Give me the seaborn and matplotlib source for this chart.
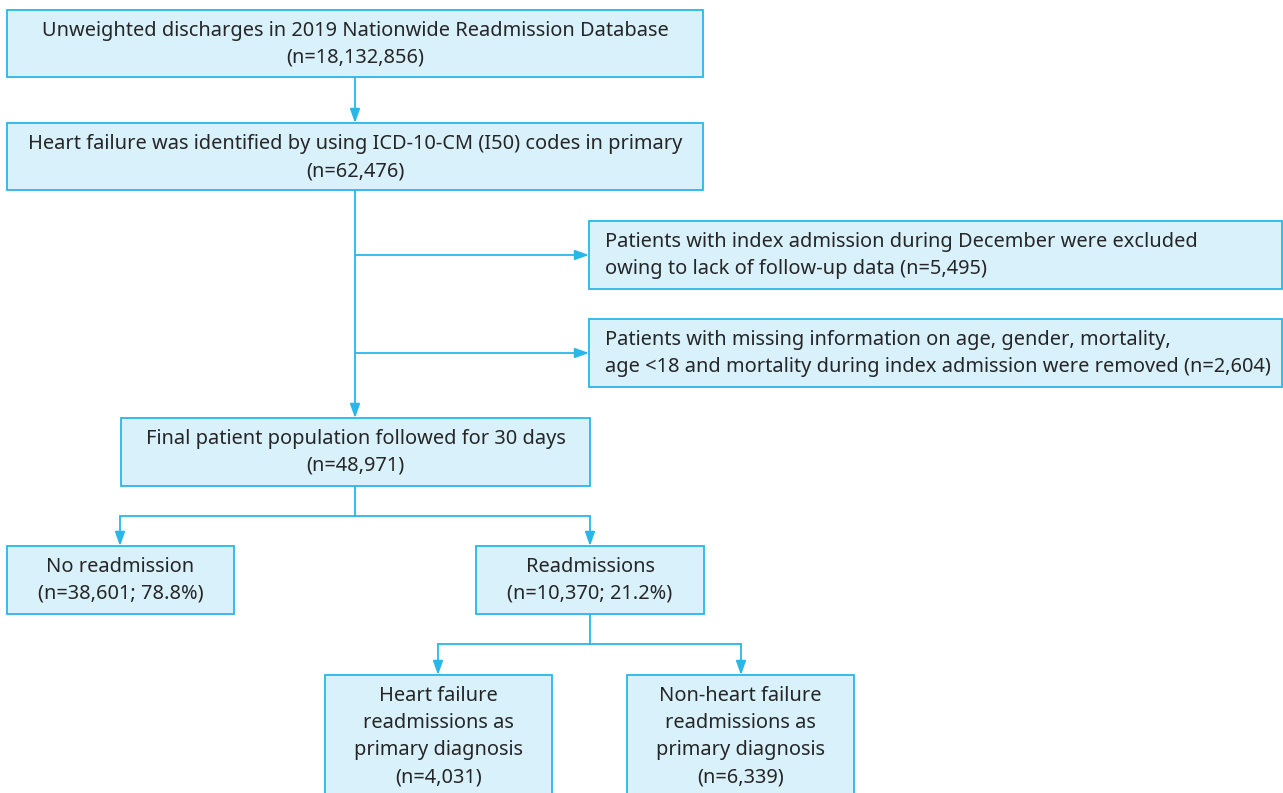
# flowchart of the 2019 NRD heart failure cohort
import matplotlib
matplotlib.use("Agg")
import matplotlib.pyplot as plt
from matplotlib.patches import Rectangle
import seaborn as sns

# data: patient counts at each step
counts = {
    "all": 18132856,
    "hf": 62476,
    "december": 5495,
    "missing": 2604,
    "final": 48971,
    "no_readm": 38601,
    "readm": 10370,
    "hf_readm": 4031,
    "nonhf_readm": 6339,
}
pct_no_readm = 78.8
pct_readm = 21.2

labels = {
    "all": ["Unweighted discharges in 2019 Nationwide Readmission Database",
            f"(n={counts['all']:,})"],
    "hf": ["Heart failure was identified by using ICD-10-CM (I50) codes in primary",
           f"(n={counts['hf']:,})"],
    "december": ["Patients with index admission during December were excluded",
                 f"owing to lack of follow-up data (n={counts['december']:,})"],
    "missing": ["Patients with missing information on age, gender, mortality,",
                f"age <18 and mortality during index admission were removed (n={counts['missing']:,})"],
    "final": ["Final patient population followed for 30 days",
              f"(n={counts['final']:,})"],
    "no_readm": ["No readmission", f"(n={counts['no_readm']:,}; {pct_no_readm}%)"],
    "readm": ["Readmissions", f"(n={counts['readm']:,}; {pct_readm}%)"],
    "hf_readm": ["Heart failure", "readmissions as", "primary diagnosis",
                 f"(n={counts['hf_readm']:,})"],
    "nonhf_readm": ["Non-heart failure", "readmissions as", "primary diagnosis",
                    f"(n={counts['nonhf_readm']:,})"],
}

# layout in pixels (x0, y0, x1, y1), y grows downwards
boxes = {
    "all": (7, 10, 703, 77),
    "hf": (7, 123, 703, 190),
    "december": (589, 221, 1282, 289),
    "missing": (589, 319, 1282, 387),
    "final": (121, 418, 590, 486),
    "no_readm": (7, 546, 234, 614),
    "readm": (476, 546, 704, 614),
    "hf_readm": (325, 675, 552, 805),
    "nonhf_readm": (627, 675, 854, 805),
}
left_aligned = {"december", "missing"}

fill = "#d9f1fb"
edge = "#29b6e9"
txt = "#262626"

sns.set_theme(style="white")
plt.rcParams["font.family"] = ["Noto Sans", "DejaVu Sans"]

fig = plt.figure(figsize=(12.83, 7.93), dpi=100)
ax = fig.add_axes([0, 0, 1, 1])
ax.set_xlim(0, 1283)
ax.set_ylim(793, 0)
ax.axis("off")

for key, (x0, y0, x1, y1) in boxes.items():
    ax.add_patch(Rectangle((x0, y0), x1 - x0, y1 - y0, facecolor=fill,
                           edgecolor=edge, linewidth=1.3, zorder=2))
    for i, line in enumerate(labels[key]):
        y = y0 + 21 + 27 * i
        if key in left_aligned:
            ax.text(x0 + 16, y, line, ha="left", va="center", fontsize=14.4,
                    color=txt, zorder=3)
        else:
            ax.text((x0 + x1) / 2, y, line, ha="center", va="center",
                    fontsize=14.4, color=txt, zorder=3)

line_kw = dict(color=edge, linewidth=1.3, zorder=1)
arrow_kw = dict(arrowstyle="-|>,head_length=0.7,head_width=0.25",
                color=edge, linewidth=1.3, shrinkA=0, shrinkB=0)


def arrow(x0, y0, x1, y1):
    ax.annotate("", xy=(x1, y1), xytext=(x0, y0), arrowprops=arrow_kw, zorder=1)


# main spine
arrow(355, 77, 355, 123)
arrow(355, 190, 355, 418)
arrow(355, 255, 589, 255)
arrow(355, 353, 589, 353)

# split into readmission / no readmission
ax.plot([355, 355], [486, 516], **line_kw)
ax.plot([120, 590], [516, 516], **line_kw)
arrow(120, 516, 120, 546)
arrow(590, 516, 590, 546)

# split of readmissions
ax.plot([590, 590], [614, 644], **line_kw)
ax.plot([438, 741], [644, 644], **line_kw)
arrow(438, 644, 438, 675)
arrow(741, 644, 741, 675)

fig.savefig("out.png", dpi=100, facecolor="white")
